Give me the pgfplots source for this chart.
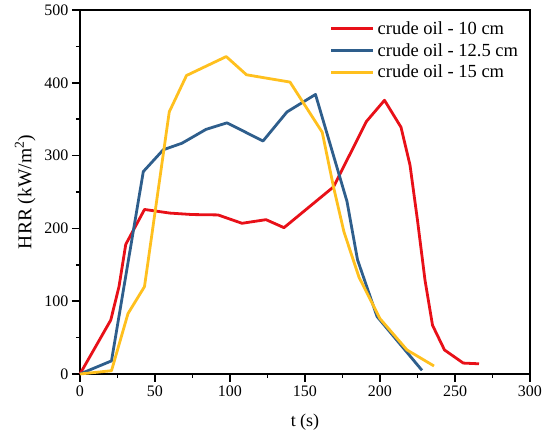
\documentclass[border=0pt]{standalone}
\usepackage{fontspec}
\setmainfont{Liberation Serif}
\usepackage{pgfplots}
\pgfplotsset{compat=1.18}
\definecolor{cred}{RGB}{232,16,24}
\definecolor{cblue}{RGB}{46,94,140}
\definecolor{cyellow}{RGB}{255,192,30}
\begin{document}
\begin{tikzpicture}
\begin{axis}[
  scale only axis,
  width=450pt, height=364pt,
  xmin=0, xmax=300, ymin=0, ymax=500,
  clip=false,
  xtick={0,50,...,300}, ytick={0,100,...,500},
  minor x tick num=1, minor y tick num=1,
  xtick pos=bottom, ytick pos=left, tick align=outside,
  major tick length=8pt, minor tick length=4pt,
  every tick/.style={line width=1.6pt, black},
  axis line style={line width=1.8pt, black},
  /pgf/number format/assume math mode=true,
  ticklabel style={font=\fontsize{16}{18}\selectfont},
  xlabel={t (s)}, ylabel={HRR (kW/m\textsuperscript{2})},
  xlabel style={font=\fontsize{18}{20}\selectfont, yshift=-11pt},
  ylabel style={font=\fontsize{19.5}{21}\selectfont, yshift=2pt},
  legend style={draw=none, fill=none, at={(0.555,0.972)}, anchor=north west,
    font=\fontsize{18.5}{20}\selectfont, inner sep=0pt, row sep=5.5pt,
    nodes={inner xsep=3pt, inner ysep=1pt}},
  legend image code/.code={\draw[#1] (0pt,0pt) -- (42pt,0pt);},
  legend cell align=left,
  every axis plot/.append style={line width=2.8pt, line join=round},
]
\addplot[cred] coordinates {(0,0)(20.5,74)(26,120)(30.5,178)(43,226)(60,221)(75,219)(92,218.5)(108,207)(124,212)(136,201)(169,257)(191,347)(203,376)(214,339)(220,287)(225,211)(230,129)(235,67)(243,33)(255.5,15)(266,14)};
\addlegendentry{crude oil - 10 cm}
\addplot[cblue] coordinates {(0,0)(21,18)(42.2,278)(55.5,308)(68,317)(84,336)(98,345)(122,320)(138,360)(157,384)(178,237)(185,157)(198,79)(228,5)};
\addlegendentry{crude oil - 12.5 cm}
\addplot[cyellow] coordinates {(0,0)(21,4.5)(32,83)(43,120)(59.5,360)(71,410)(97.5,436)(111,411)(140,401)(161.5,332)(169,257)(176,195)(186,133)(200,76)(218,33)(236,11)};
\addlegendentry{crude oil - 15 cm}
\draw[black, line width=2pt, line cap=rect] (rel axis cs:0,1) -- (rel axis cs:1,1) -- (rel axis cs:1,0);
\end{axis}
\pgfresetboundingbox
\path (-80pt,-61pt) rectangle (470pt,374pt);
\end{tikzpicture}
\end{document}
